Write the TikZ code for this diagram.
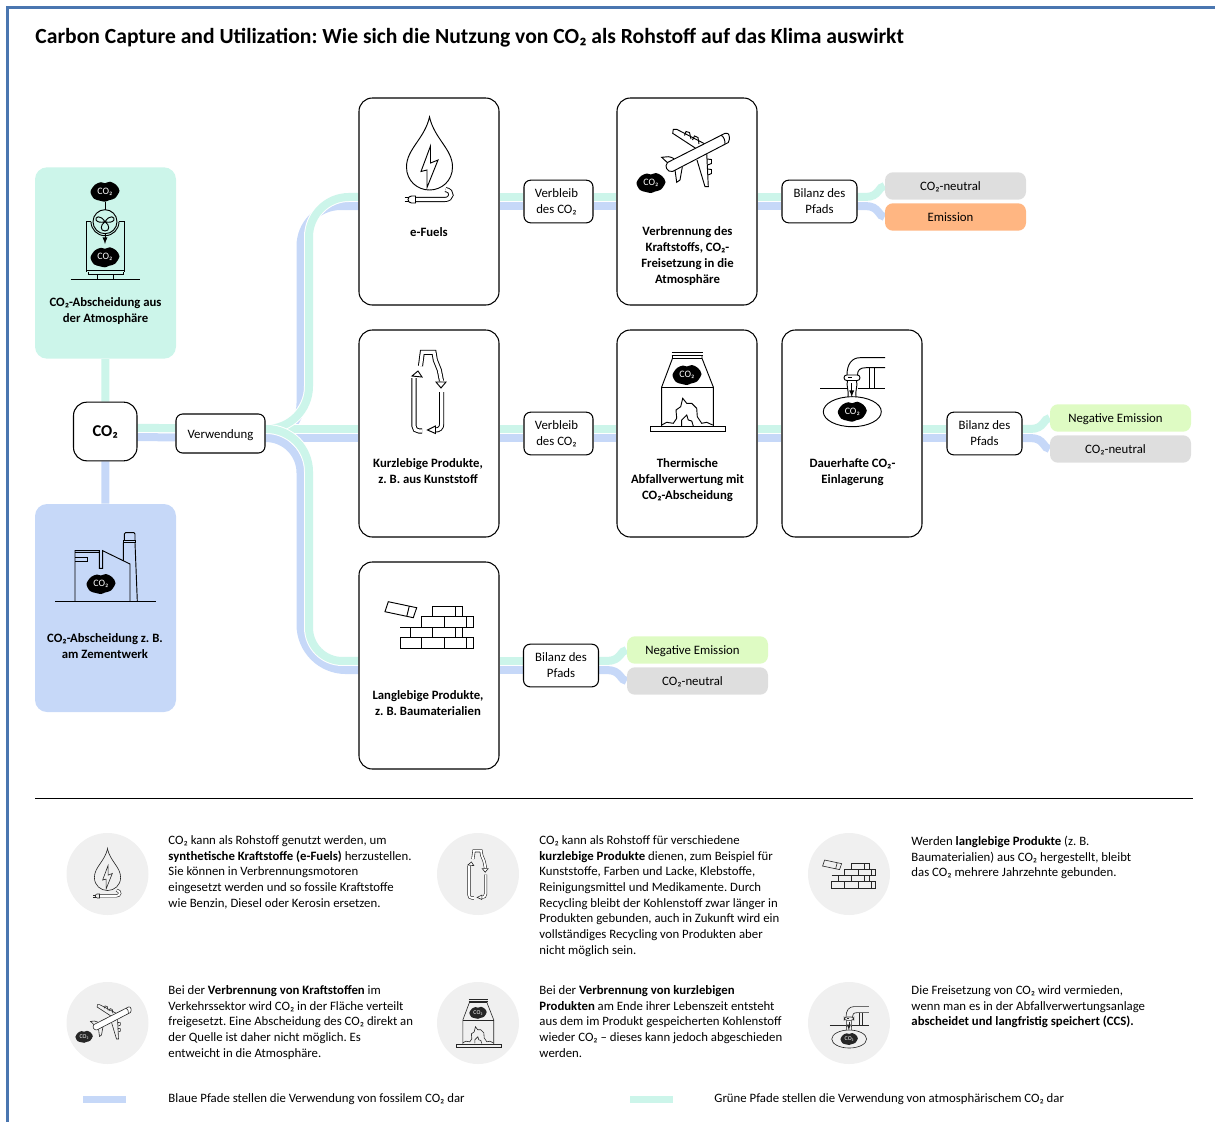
\documentclass[tikz,border=0pt]{standalone}
\usepackage{fontspec}
\setmainfont{Carlito}
\usetikzlibrary{backgrounds}
\AtBeginDocument{\frenchspacing}
\definecolor{pathgreen}{HTML}{CCF5EA}
\definecolor{pathblue}{HTML}{C6D8F8}
\definecolor{framecol}{HTML}{4A76B0}
\definecolor{neutralcol}{HTML}{DEDEDE}
\definecolor{emissioncol}{HTML}{FFB682}
\definecolor{negativecol}{HTML}{DEFBC3}
\definecolor{iconbg}{HTML}{F0F0F0}
\tikzset{
  bigbox/.style={draw, fill=white, line width=.8pt, rounded corners=10pt, minimum width=105pt, minimum height=155.25pt, inner sep=0pt},
  sourcebox/.style={rounded corners=9pt, minimum width=105.75pt, inner sep=0pt},
  smallbox/.style={draw, fill=white, line width=.8pt, rounded corners=5pt, align=center, inner sep=0pt, minimum height=32pt, font=\fontsize{9.6}{11.9}\selectfont, execute at begin node=\rule{0pt}{8.6pt}},
  statebox/.style={rounded corners=6pt, minimum width=105.75pt, minimum height=20.6pt, inner sep=0pt, text height=7.6pt, text depth=1.6pt, font=\fontsize{9.6}{11.9}\selectfont, execute at end node=\hspace*{7.5pt}},
  captext/.style={align=center, inner sep=0pt, font=\fontsize{9.55}{11.9}\selectfont\bfseries},
  bodytext/.style={align=left, anchor=north west, inner sep=0pt, font=\fontsize{9.58}{11.78}\selectfont},
  greenline/.style={draw=pathgreen, line width=6pt, preaction={draw=white, line width=7.5pt}},
  blueline/.style={draw=pathblue, line width=6pt},
  iconcircle/.style={circle, fill=iconbg, minimum size=61.5pt, inner sep=0pt},
  cotext/.style={text=white, inner sep=0pt, transform shape, font=\fontsize{7.4}{8}\selectfont},
  pics/cloudicon/.style={code={
    \fill plot[smooth cycle] coordinates {(-14.5,0) (-10,-7) (-4,-9.5) (0,-8.5) (5,-10) (11,-7) (14.5,-1) (10,6.5) (4,8.5) (0,10) (-5,9) (-11,7)};
    \node[cotext] (-co) at (0,0) {CO₂};
  }},
  pics/dropicon/.style={code={
    \draw (0,-44) .. controls (-5,-22) and (-23,-12) .. (-23,6) .. controls (-23,20) and (-12,29) .. (0,29) .. controls (12,29) and (23,20) .. (23,6) .. controls (23,-12) and (5,-22) .. cycle;
    \draw (1,-15) -- (-8.5,10.5) -- (-2.5,9) -- (-2.5,26.5) -- (8.5,-1) -- (1,2) -- cycle;
    \draw[double] (-14,38.5) -- (15,38.5) .. controls (23,38.5) and (24,30) .. (16,28.5);
    \draw (-14,35) -- (-18,35) arc[start angle=270, end angle=90, radius=3.5] -- (-14,42) -- cycle;
    \draw (-25,36.5) -- (-21,36.5) (-25,40.5) -- (-21,40.5);
  }},
  pics/planeicon/.style={code={
    \begin{scope}[shift={(-690,-160)}]
    \draw (698.3,150) -- (672.7,133.3) -- (673.3,129.3) -- (676.7,129.3) -- (707,145);
    \draw (697,160) -- (705,186.7) -- (708.3,186.7) -- (706.7,153);
    \draw (668.3,163.5) -- (661.7,157.3) -- (668.3,156.7) .. controls (672,157) and (675,159) .. (676.7,161.5);
    \draw (675,170) -- (676.7,182.3) -- (680,180) -- (682.3,167);
    \draw (684.5,135.5) -- (686,131.5) -- (689.5,132.5) -- (691,139);
    \draw (692.5,140) -- (694.5,136) -- (698,137.5) -- (699,144);
    \draw (707,159) -- (711.5,159.5) -- (711.5,163.5) -- (707.5,165);
    \draw (707.5,169) -- (711.5,169.5) -- (711.5,173.5) -- (708,175);
    \draw[fill=white] (729.3,136.7) .. controls (729,133.5) and (727,132.5) .. (725,133.3) -- (667.5,162.5) .. controls (664,166) and (667,172.5) .. (672.5,171.5) -- (728.3,142.5) .. controls (729.5,140.5) and (729.5,138) .. (729.3,136.7) -- cycle;
    \draw (721,135) .. controls (724,137) and (725,140) .. (725,144);
    \end{scope}
    \pic[transform shape] (-cl) at (-39,23) {cloudicon};
  }},
  pics/bottleicon/.style={code={
    \begin{scope}[shift={(-429,-391)}]
    \draw[double] (422,431) -- (419,431) .. controls (416,431) and (414,429) .. (414,426) -- (414,378);
    \draw[fill=white] (412,376) -- (418,371) -- (422,377) -- cycle;
    \draw[double] (420.5,366) -- (422.3,352.3) -- (434,352.3) -- (435.3,360) -- (439.3,370) -- (441.5,381);
    \draw[fill=white] (436,382) -- (446,382) -- (441,388) -- cycle;
    \draw[double] (441.7,392) -- (441.7,424) .. controls (441.7,428) and (439,430) .. (435.5,430);
    \draw[fill=white] (435.5,426) -- (435.5,433.5) -- (427.5,430) -- cycle;
    \end{scope}
  }},
  pics/ovenicon/.style={code={
    \begin{scope}[shift={(-687,-392)}]
    \draw (671.5,352.3) -- (703,352.3) (671.5,355) -- (703,355);
    \draw (672.5,355) -- (672.5,358.3) -- (661.7,387) -- (661.7,426.7) (702,355) -- (702,358.3) -- (713.3,387) -- (713.3,426.7);
    \draw (672.5,358.3) -- (702,358.3) (661.7,387) -- (713.3,387);
    \draw (650,426.7) rectangle (725,431.7);
    \draw (661.7,425) -- (666.7,422.3) -- (673.3,423.3) -- (676.7,418.3) -- (676,410) -- (680.7,406.7) -- (682.7,398.3) -- (686.7,403.3) -- (691.7,403.3) -- (696.7,408.3) -- (697.3,416.7) -- (701.7,423.3) -- (706.7,422.3) -- (712.7,425);
    \draw (681.7,426) -- (681.7,420) -- (686.7,415) -- (688.3,420) -- (691.7,421) -- (693.3,426);
    \end{scope}
    \pic[transform shape] (-cl) at (0,-17) {cloudicon};
  }},
  pics/storeicon/.style={code={
    \begin{scope}[shift={(-852,-385)}]
    \draw (885,357.7) -- (860,357.7) .. controls (852,357.7) and (847,364) .. (847,375);
    \draw (885,367.7) -- (866,367.7) .. controls (860,367.7) and (857.5,370) .. (857.5,375);
    \draw[rounded corners=2pt] (844,375) rectangle (860,380.5);
    \draw (848,377.5) -- (852,377.5);
    \draw (820,388.3) -- (847,388.3) (857.5,388.3) -- (885,388.3);
    \draw (869.3,367.7) -- (869.3,388.3) (874,367.7) -- (874,388.3);
    \draw (847.5,380.5) .. controls (846,386) and (849,390) .. (848,397) (856.5,380.5) .. controls (858,386) and (855,390) .. (856,397);
    \draw (852.3,411.7) ellipse[x radius=29, y radius=15];
    \draw[-latex] (851.7,383) -- (851.7,397);
    \end{scope}
    \pic[transform shape] (-cl) at (0.3,26.7) {cloudicon};
  }},
  pics/brickicon/.style={code={
    \begin{scope}[shift={(-429,-625)}]
    \draw (388.3,601.7) -- (416.7,607.7) -- (413.3,617.7) -- (385,611.7) -- cycle (409.3,606) -- (406.7,616.7);
    \draw (432.7,606.7) rectangle (462.7,616.7) (455,606.7) -- (455,616.7);
    \draw (421.7,616.7) rectangle (473.3,627.3) (444,616.7) -- (444,627.3) (466,616.7) -- (466,627.3);
    \draw (400,627.3) -- (462.7,627.3) -- (462.7,637.3) (410.7,627.3) -- (410.7,637.3) (432.7,627.3) -- (432.7,637.3) (455,627.3) -- (455,637.3);
    \draw (400,637.3) rectangle (473.3,648.3) (421.7,637.3) -- (421.7,648.3) (444,637.3) -- (444,648.3) (466,637.3) -- (466,648.3);
    \end{scope}
  }},
  pics/dacicon/.style={code={
    \draw (105,201.7) -- (105,209.5);
    \draw (105,221.7) circle[radius=12];
    \draw (86.7,271.7) -- (86.7,221.7) -- (91,221.7) (124.7,271.7) -- (124.7,221.7) -- (119,221.7);
    \draw (91,221.7) arc[start angle=180, end angle=0, radius=14];
    \draw (86.7,270.5) -- (124.7,270.5) (88,271.7) -- (88,274) -- (123.5,274) -- (123.5,271.7);
    \draw (97.3,274) -- (97.3,279.3) (113.3,274) -- (113.3,279.3);
    \draw (70.7,279.3) -- (140,279.3);
    \draw[-latex] (105,233.5) -- (105,244);
    \draw (105,221.7) .. controls (100,214) and (95,217) .. (96,220) .. controls (97,222) and (101,223) .. (105,221.7) -- cycle (105,221.7) .. controls (110,214) and (115,217) .. (114,220) .. controls (113,222) and (109,223) .. (105,221.7) -- cycle (105,221.7) .. controls (100,225) and (100,231) .. (105,231) .. controls (110,231) and (110,225) .. (105,221.7) -- cycle;
    \pic[transform shape] (-top) at (105,191.7) {cloudicon};
    \pic[transform shape] (-low) at (105,257.3) {cloudicon};
  }},
  pics/factoryicon/.style={code={
    \draw (55,601) -- (156,601);
    \draw (75,601) -- (75,550.7) -- (99.3,550.7) -- (99.3,568.3) -- (102.7,568.3) -- (102.7,550.7) -- (130,564) -- (130,601);
    \draw (75,552.5) -- (99.3,552.5);
    \draw (75,557.3) -- (87.7,557.3) -- (87.7,561.3) -- (75,561.3);
    \draw (123.3,542.7) -- (123.3,561) (135,542.7) -- (137.3,601);
    \draw (124.3,540.7) -- (124.3,534) -- (125.5,532.7) -- (134,532.7) -- (135,534) -- (135,540.7);
    \draw (123.3,540.7) rectangle (135.7,542.7);
    \pic[transform shape] (-cl) at (101,584) {cloudicon};
  }},
}
\begin{document}
\begin{tikzpicture}[x=.75pt, y=-.75pt, double distance=2.4pt, line width=.7pt]
\useasboundingbox (0,0) rectangle (1215,1122);
\draw[framecol, line width=1.6pt] (7.5,1122) -- (7.5,7.5) -- (1215,7.5);
\node[anchor=west, inner sep=0pt, font=\fontsize{16.2}{19}\selectfont\bfseries] (titleText) at (35,38) {Carbon Capture and Utilization: Wie sich die Nutzung von CO₂ als Rohstoff auf das Klima auswirkt};

% sources
\node[sourcebox, fill=pathgreen, minimum height=143.5pt] (airBox) at (105.5,263) {};
\node[sourcebox, fill=pathblue, minimum height=156pt] (cementBox) at (105.5,608) {};
\node[draw, fill=white, line width=.8pt, rounded corners=10pt, minimum width=47.6pt, minimum height=44pt, inner sep=0pt, font=\fontsize{12.4}{14}\selectfont\bfseries] (coTwo) at (105.25,431.5) {CO₂};
\node[smallbox, minimum width=66.75pt, minimum height=29.25pt] (useBox) at (220.5,433.5) {Verwendung};

% products
\node[bigbox] (fuelBox) at (429,201.5) {};
\node[bigbox] (burnBox) at (687,201.5) {};
\node[bigbox] (shortBox) at (429,433.5) {};
\node[bigbox] (wasteBox) at (687,433.5) {};
\node[bigbox] (storeBox) at (852,433.5) {};
\node[bigbox] (longBox) at (429,665.5) {};

\node[smallbox, minimum width=51.75pt] (stayA) at (558.5,201.5) {Verbleib\hspace*{3pt}\\des CO₂\hspace*{3pt}};
\node[smallbox, minimum width=51.75pt] (stayB) at (558.5,433.5) {Verbleib\hspace*{3pt}\\des CO₂\hspace*{3pt}};
\node[smallbox, minimum width=56.25pt] (sumA) at (819.5,201.5) {Bilanz des\\Pfads};
\node[smallbox, minimum width=56.25pt] (sumB) at (984.5,433.5) {Bilanz des\\Pfads};
\node[smallbox, minimum width=56.25pt] (sumC) at (561,665.5) {Bilanz des\\Pfads};

\node[statebox, fill=neutralcol] (stateAa) at (955.5,186) {CO₂-neutral};
\node[statebox, fill=emissioncol] (stateAb) at (955.5,217) {Emission};
\node[statebox, fill=negativecol] (stateBa) at (1120.5,418) {Negative Emission};
\node[statebox, fill=neutralcol] (stateBb) at (1120.5,449) {CO₂-neutral};
\node[statebox, fill=negativecol] (stateCa) at (697.5,650) {Negative Emission};
\node[statebox, fill=neutralcol] (stateCb) at (697.5,681) {CO₂-neutral};

\coordinate (upBlue) at (300.5,300);
\coordinate (upGreen) at (309,300);
\coordinate (downBlue) at (300.5,550);
\coordinate (downGreen) at (309,550);

\begin{scope}[on background layer]
  % blue paths
  \draw[blueline] (coTwo) -- (cementBox);
  \draw[blueline] ([yshift=-4.2pt]coTwo.east) -- ([yshift=-2.9pt]useBox.west);
  \draw[blueline, rounded corners=26pt] ([yshift=-3.4pt]useBox.east) -| (upBlue) [rounded corners=30pt] |- ([yshift=-3.4pt]fuelBox.west);
  \draw[blueline] ([yshift=-3.4pt]useBox.east) -- ([yshift=-3.4pt]shortBox.west);
  \draw[blueline, rounded corners=26pt] ([yshift=-3.4pt]useBox.east) -| (downBlue) [rounded corners=34pt] |- ([yshift=-3.4pt]longBox.west);
  \foreach \from/\to in {fuelBox/stayA, stayA/burnBox, burnBox/sumA, shortBox/stayB, stayB/wasteBox, wasteBox/storeBox, storeBox/sumB, longBox/sumC}
    \draw[blueline] ([yshift=-3.4pt]\from.east) -- ([yshift=-3.4pt]\to.west);
  \foreach \from/\to in {sumA/stateAb, sumB/stateBb, sumC/stateCb}
    \draw[blueline] ([yshift=-3.4pt]\from.east) -- ++(8,0) .. controls ++(14,0) and ++(-6,0) .. (\to.west);
  % green paths
  \draw[greenline] (coTwo) -- (airBox);
  \draw[greenline] ([yshift=2.8pt]coTwo.east) -- ([yshift=4pt]useBox.west);
  \draw[greenline] ([yshift=3.4pt]useBox.east) -- ([yshift=3.4pt]shortBox.west);
  \draw[greenline, rounded corners=32pt] ([yshift=3.4pt]useBox.east) -| (upGreen) [rounded corners=30pt] |- ([yshift=3.4pt]fuelBox.west);
  \draw[greenline, rounded corners=32pt] ([yshift=3.4pt]useBox.east) -| (downGreen) [rounded corners=25pt] |- ([yshift=3.4pt]longBox.west);
  \foreach \from/\to in {fuelBox/stayA, stayA/burnBox, burnBox/sumA, shortBox/stayB, stayB/wasteBox, wasteBox/storeBox, storeBox/sumB, longBox/sumC}
    \draw[greenline] ([yshift=3.4pt]\from.east) -- ([yshift=3.4pt]\to.west);
  \foreach \from/\to in {sumA/stateAa, sumB/stateBa, sumC/stateCa}
    \draw[greenline] ([yshift=3.4pt]\from.east) -- ++(8,0) .. controls ++(14,0) and ++(-6,0) .. (\to.west);
\end{scope}

% captions
\node[captext] (airText) at (105.5,311) {CO₂-Abscheidung aus\\der Atmosphäre};
\node[captext] (cementText) at (105,646) {CO₂-Abscheidung z. B.\\am Zementwerk};
\node[captext] (fuelText) at (429,232) {e-Fuels};
\node[captext] (burnText) at (687.5,256) {Verbrennung des\\Kraftstoffs, CO₂-\\Freisetzung in die\\Atmosphäre};
\node[captext] (shortText) at (428,471) {Kurzlebige Produkte,\\z. B. aus Kunststoff};
\node[captext] (wasteText) at (687.5,480) {Thermische\\Abfallverwertung mit\\CO₂-Abscheidung};
\node[captext] (storeText) at (852.5,472) {Dauerhafte CO₂-\\Einlagerung};
\node[captext] (longText) at (428,703) {Langlebige Produkte,\\z. B. Baumaterialien};

% icons
\pic (dac) {dacicon};
\pic (factory) {factoryicon};
\pic (dropBig) at (429.5,161) {dropicon};
\pic (planeBig) at (690,160) {planeicon};
\pic (bottleBig) at (429,391) {bottleicon};
\pic (ovenBig) at (687,392) {ovenicon};
\pic (storeBig) at (852,385) {storeicon};
\pic (brickBig) at (429,625) {brickicon};

% lower part
\draw[line width=.7pt] (35,798) -- (1193,798);

\node[iconcircle] (circleA) at (107.5,874) {};
\node[iconcircle] (circleB) at (478,874) {};
\node[iconcircle] (circleC) at (849,874) {};
\node[iconcircle] (circleD) at (107.5,1023) {};
\node[iconcircle] (circleE) at (478,1023) {};
\node[iconcircle] (circleF) at (849,1023) {};

\begin{scope}[line width=.45pt, double distance=1.4pt, black!85]
\pic[scale=.57] (dropSmall) at (circleA) {dropicon};
\pic[scale=.6] (bottleSmall) at (circleB) {bottleicon};
\pic[scale=.6] (brickSmall) at (circleC) {brickicon};
\pic[scale=.6] (planeSmall) at (circleD) {planeicon};
\pic[scale=.6] (ovenSmall) at (circleE) {ovenicon};
\pic[scale=.6] (storeSmall) at (circleF) {storeicon};
\end{scope}

\node[bodytext] (noteA) at (168,835) {CO₂ kann als Rohstoff genutzt werden, um\\\textbf{synthetische Kraftstoffe (e-Fuels)} herzustellen.\\Sie können in Verbrennungsmotoren\\eingesetzt werden und so fossile Kraftstoffe\\wie Benzin, Diesel oder Kerosin ersetzen.};
\node[bodytext] (noteB) at (539,835) {CO₂ kann als Rohstoff für verschiedene\\\textbf{kurzlebige Produkte} dienen, zum Beispiel für\\Kunststoffe, Farben und Lacke, Klebstoffe,\\Reinigungsmittel und Medikamente. Durch\\Recycling bleibt der Kohlenstoff zwar länger in\\Produkten gebunden, auch in Zukunft wird ein\\vollständiges Recycling von Produkten aber\\nicht möglich sein.};
\node[bodytext] (noteC) at (911,835.5) {Werden \textbf{langlebige Produkte} (z. B.\\Baumaterialien) aus CO₂ hergestellt, bleibt\\das CO₂ mehrere Jahrzehnte gebunden.};
\node[bodytext] (noteD) at (168,985) {Bei der \textbf{Verbrennung von Kraftstoffen} im\\Verkehrssektor wird CO₂ in der Fläche verteilt\\freigesetzt. Eine Abscheidung des CO₂ direkt an\\der Quelle ist daher nicht möglich. Es\\entweicht in die Atmosphäre.};
\node[bodytext] (noteE) at (539,985) {Bei der \textbf{Verbrennung von kurzlebigen}\\\textbf{Produkten} am Ende ihrer Lebenszeit entsteht\\aus dem im Produkt gespeicherten Kohlenstoff\\wieder CO₂ – dieses kann jedoch abgeschieden\\werden.};
\node[bodytext] (noteF) at (911,985) {Die Freisetzung von CO₂ wird vermieden,\\wenn man es in der Abfallverwertungsanlage\\\textbf{abscheidet und langfristig speichert (CCS).}};

% legend
\node[fill=pathblue, minimum width=32.25pt, minimum height=5.5pt, inner sep=0pt] (keyBlue) at (104.5,1099.5) {};
\node[fill=pathgreen, minimum width=32.25pt, minimum height=5.5pt, inner sep=0pt] (keyGreen) at (651.5,1099.5) {};
\node[bodytext, anchor=west] (keyBlueText) at (168,1099) {Blaue Pfade stellen die Verwendung von fossilem CO₂ dar};
\node[bodytext, anchor=west] (keyGreenText) at (714,1099) {Grüne Pfade stellen die Verwendung von atmosphärischem CO₂ dar};
\end{tikzpicture}
\end{document}
